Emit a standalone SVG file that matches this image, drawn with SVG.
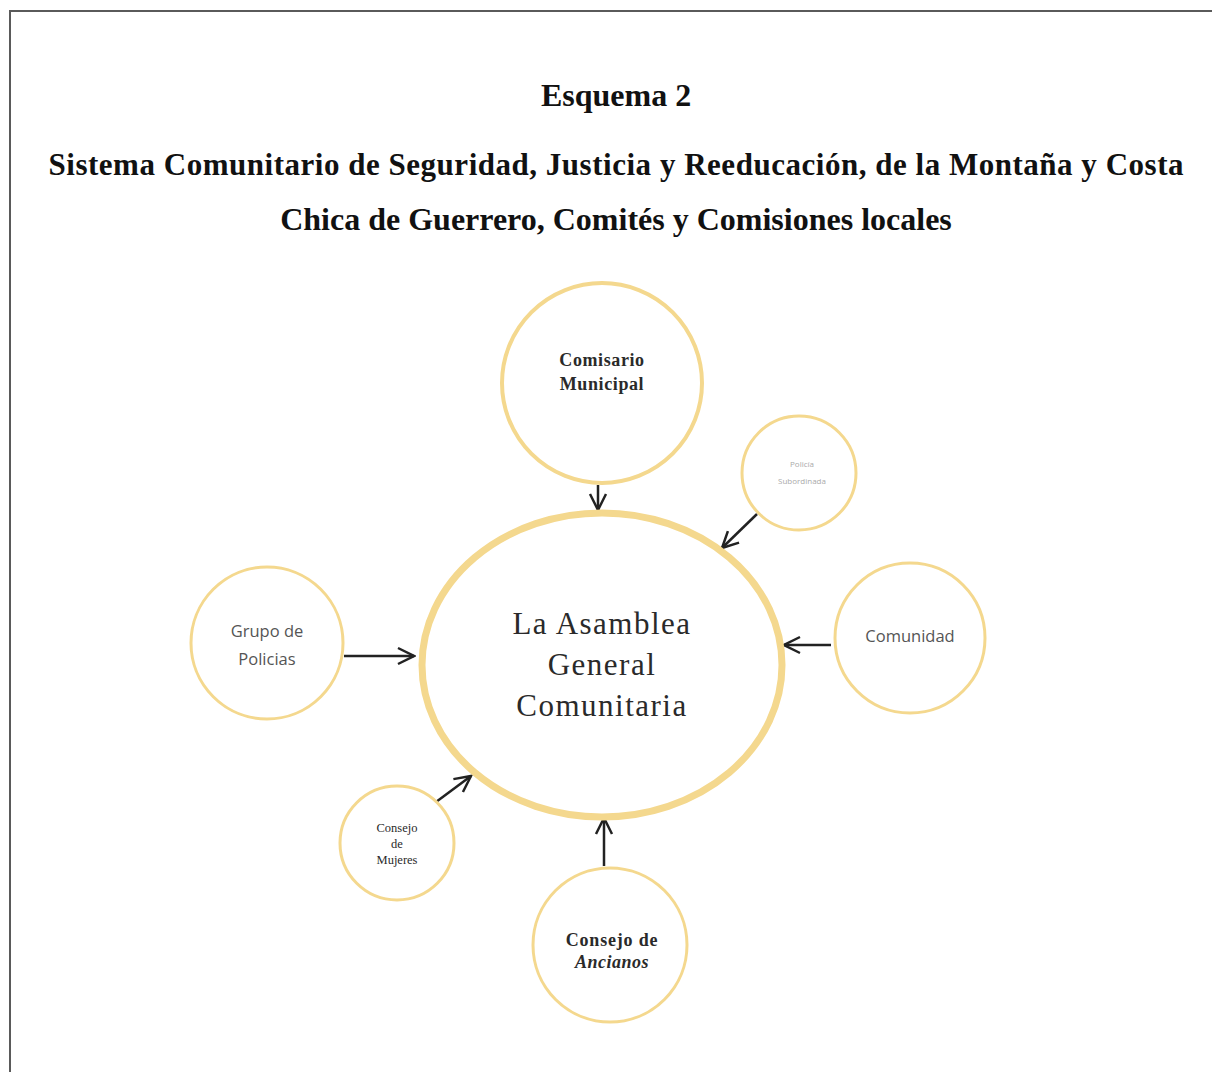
<svg xmlns="http://www.w3.org/2000/svg" width="1212" height="1072" viewBox="0 0 1212 1072">
<style>
.frame{stroke:#5a5a5a;stroke-width:2;fill:none}
.title{font-family:"Liberation Serif",serif;font-weight:bold;fill:#111;text-anchor:middle}
.node{fill:#fff;stroke:#f4d88e}
.serif{font-family:"Liberation Serif",serif;fill:#2a2a2a;text-anchor:middle}
.sans{font-family:"Open Sans","Liberation Sans",sans-serif;fill:#555;text-anchor:middle}
.conn{stroke:#222;stroke-width:2.5;fill:none}
</style>
<defs>
<marker id="ah" viewBox="0 0 20 20" refX="18" refY="10" markerWidth="20" markerHeight="20" markerUnits="userSpaceOnUse" orient="auto">
<path d="M2 2 L18 10 L2 18" fill="none" stroke="#222" stroke-width="2.5"/>
</marker>
</defs>
<rect width="1212" height="1072" fill="#fff"/>
<path class="frame" d="M10 1072 V11 H1212"/>
<text class="title" x="616" y="106" font-size="32">Esquema 2</text>
<text class="title" x="616" y="175" font-size="31" textLength="1135" lengthAdjust="spacing">Sistema Comunitario de Seguridad, Justicia y Reeducación, de la Montaña y Costa</text>
<text class="title" x="616" y="230" font-size="32">Chica de Guerrero, Comités y Comisiones locales</text>
<g id="connectors">
<line class="conn" x1="598" y1="485" x2="598" y2="510" marker-end="url(#ah)"/>
<line class="conn" x1="757" y1="514" x2="722" y2="548" marker-end="url(#ah)"/>
<line class="conn" x1="831" y1="645" x2="784" y2="645" marker-end="url(#ah)"/>
<line class="conn" x1="344" y1="656" x2="414" y2="656" marker-end="url(#ah)"/>
<line class="conn" x1="436" y1="802" x2="471" y2="776" marker-end="url(#ah)"/>
<line class="conn" x1="604" y1="866" x2="604" y2="818" marker-end="url(#ah)"/>
</g>
<g id="asamblea">
<ellipse class="node" cx="602" cy="665" rx="180" ry="152" stroke-width="7"/>
<text class="serif" font-size="31" letter-spacing="1.5" x="602" y="634">La Asamblea</text>
<text class="serif" font-size="31" letter-spacing="1.5" x="602" y="675">General</text>
<text class="serif" font-size="31" letter-spacing="1.5" x="602" y="716">Comunitaria</text>
</g>
<g id="comisario">
<circle class="node" cx="602" cy="383" r="100" stroke-width="4"/>
<text class="serif" font-size="18" font-weight="bold" letter-spacing="0.6" x="602" y="366">Comisario</text>
<text class="serif" font-size="18" font-weight="bold" letter-spacing="0.6" x="602" y="390">Municipal</text>
</g>
<g id="policia">
<circle class="node" cx="799" cy="473" r="57" stroke-width="3"/>
<text class="sans" font-size="8" style="fill:#aaa" x="802" y="467">Policía</text>
<text class="sans" font-size="8" style="fill:#aaa" x="802" y="484">Subordinada</text>
</g>
<g id="comunidad">
<circle class="node" cx="910" cy="638" r="75" stroke-width="3"/>
<text class="sans" font-size="16.5" x="910" y="642">Comunidad</text>
</g>
<g id="grupo">
<circle class="node" cx="267" cy="643" r="76" stroke-width="3"/>
<text class="sans" font-size="16.5" x="267" y="637">Grupo de</text>
<text class="sans" font-size="16.5" x="267" y="665">Policias</text>
</g>
<g id="mujeres">
<circle class="node" cx="397" cy="843" r="57" stroke-width="3"/>
<text class="serif" font-size="12.5" x="397" y="832">Consejo</text>
<text class="serif" font-size="12.5" x="397" y="848">de</text>
<text class="serif" font-size="12.5" x="397" y="864">Mujeres</text>
</g>
<g id="ancianos">
<circle class="node" cx="610" cy="945" r="77" stroke-width="3"/>
<text class="serif" font-size="18" font-weight="bold" letter-spacing="0.8" x="612" y="946">Consejo de</text>
<text class="serif" font-size="18" font-weight="bold" font-style="italic" letter-spacing="0.5" x="612" y="968">Ancianos</text>
</g>
</svg>
